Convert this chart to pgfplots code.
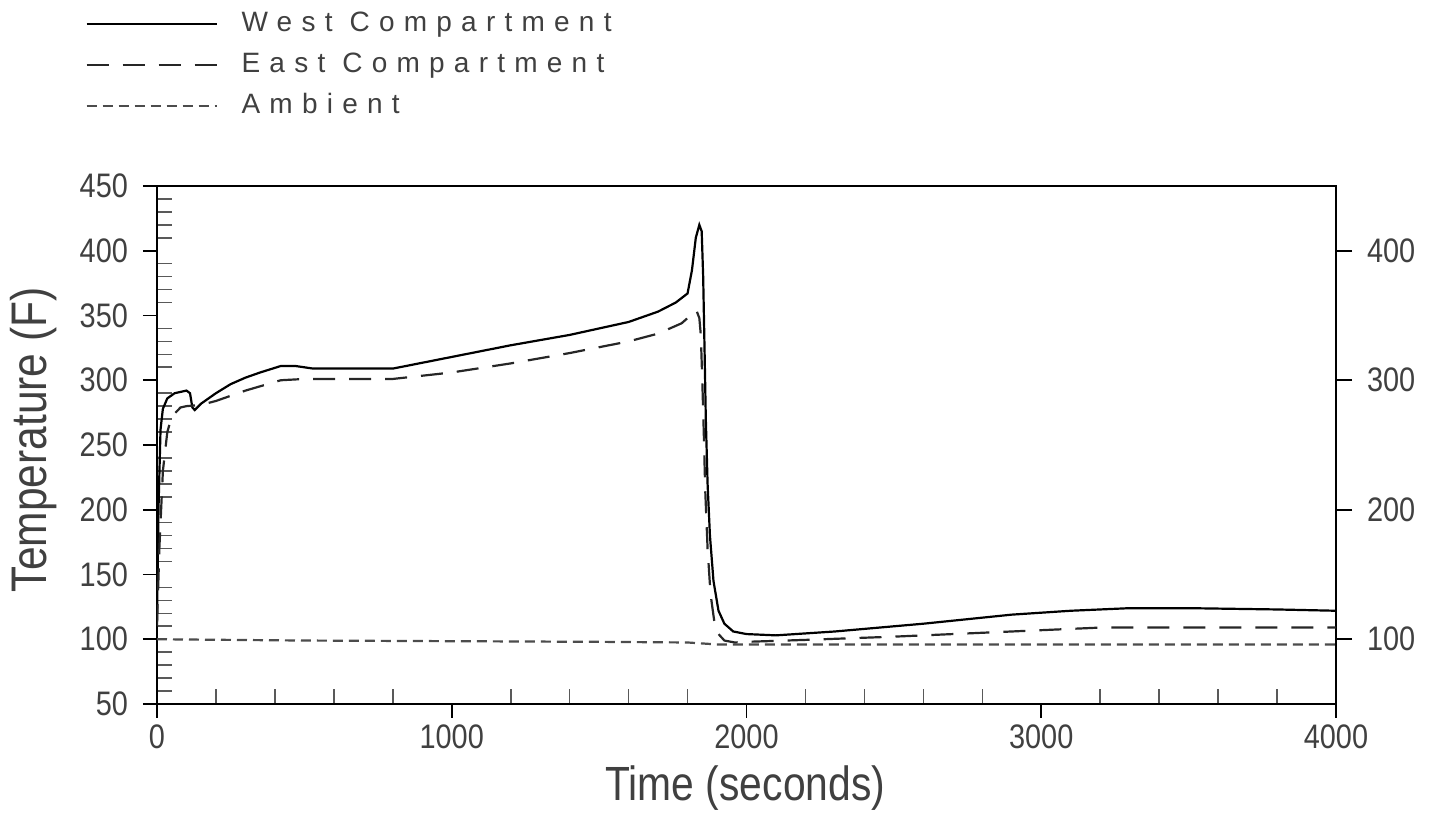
\documentclass[border=0pt]{standalone}
\usepackage{fontspec}
\setmainfont{Liberation Sans}[FakeStretch=0.85]
\newfontfamily\legfont{Liberation Sans}[LetterSpace=33]
\usepackage{pgfplots}
\pgfplotsset{compat=1.18}
\usepackage{pgfplotstable}

\pgfplotstableread{
t T
0 115
5 200
12 262
20 278
35 286
60 290
100 292
112 290
120 279
128 277
150 282
200 290
250 297
300 302
350 306
420 311
470 311
530 309
600 309
800 309
1000 318
1200 327
1400 335
1600 345
1700 353
1760 360
1800 367
1815 385
1828 410
1840 420
1848 415
1853 380
1858 320
1862 270
1868 220
1876 180
1888 145
1905 122
1925 112
1955 106
2000 104
2100 103
2300 106
2600 112
2900 119
3100 122
3300 124
3500 124
3800 123
4000 122
}\west

\pgfplotstableread{
t T
0 110
8 170
20 230
35 260
50 272
80 279
100 280
150 281
200 284
300 292
420 300
500 301
800 301
1000 306
1200 313
1400 321
1600 330
1700 336
1780 344
1810 350
1830 354
1840 348
1845 335
1850 300
1855 260
1860 215
1868 170
1878 135
1890 115
1905 104
1925 99
1960 97.5
2000 98
2200 99.5
2500 102
2800 105
3000 107
3200 109
3500 109
4000 109
}\east

\pgfplotstableread{
t T
0 100
500 99
1000 98.5
1500 98
1800 97.5
1900 96
2500 96
4000 96
}\ambient

\begin{document}
\begin{tikzpicture}
\useasboundingbox (-78.5pt,-57pt) rectangle (639.5pt,352pt);
\pgfplotsset{common/.style={scale only axis, width=589.5pt, height=259pt,
  xmin=0, xmax=4000, ymin=50, ymax=450, at={(0pt,0pt)}, anchor=south west,
  scaled ticks=false, /pgf/number format/1000 sep={},
  /pgf/number format/assume math mode=true,
  ticklabel style={font=\fontsize{17}{19}\selectfont, text=black!75},
  tick style={black, line width=0.9pt}}}
% minor ticks, inside
\begin{axis}[common, axis line style={draw=none}, tick align=inside,
  xtick={200,400,600,800,1200,1400,1600,1800,2200,2400,2600,2800,3200,3400,3600,3800},
  ytick={60,70,80,90,110,120,130,140,160,170,180,190,210,220,230,240,260,270,280,290,310,320,330,340,360,370,380,390,410,420,430,440},
  xticklabels={}, yticklabels={}, xtick pos=left, ytick pos=left,
  major tick length=7.5pt, tick style={black!65, line width=0.8pt}]
\end{axis}
% right ticks
\begin{axis}[common, axis line style={draw=none}, tick align=outside,
  xtick=\empty, ytick={100,200,300,400}, ytick pos=right, yticklabel pos=right,
  yticklabel style={xshift=4pt},
  major tick length=8pt]
\end{axis}
% main
\begin{axis}[common, tick align=outside,
  xtick={0,1000,2000,3000,4000}, ytick={50,100,...,450},
  xtick pos=left, ytick pos=left, major tick length=7pt,
  yticklabel style={xshift=-4pt},
  axis line style={line width=1.2pt},
  xlabel={Time (seconds)}, ylabel={Temperature (F)},
  every axis x label/.style={at={(axis description cs:0.499,-0.162)}, anchor=center, font=\fontsize{24}{26}\selectfont, text=black!75},
  every axis y label/.style={at={(axis description cs:-0.105,0.51)}, rotate=90, anchor=center, font=\fontsize{25}{27}\selectfont, text=black!75},
  legend image code/.code={\draw[#1] (0pt,0pt) -- (65pt,0pt); \path[draw=none] (0pt,0pt) -- (77.5pt,0pt);},
  legend cell align=left,
  legend style={draw=none, fill=none, at={(axis description cs:-0.061,1.338)}, anchor=north west,
    font=\legfont\fontsize{14}{16}\selectfont, text=black!75, row sep=7.5pt, inner sep=0pt,
    nodes={inner sep=0pt, text height=10pt, text depth=3pt}},
]
\addplot[black, line width=1.1pt] table[x=t, y=T] {\west};
\addlegendentry{West Compartment}
\addplot[black!85, line width=1.1pt, dash pattern=on 11pt off 7pt] table[x=t, y=T] {\east};
\addlegendentry{East Compartment}
\addplot[black!70, line width=1.1pt, dash pattern=on 5pt off 3pt] table[x=t, y=T] {\ambient};
\addlegendentry{Ambient}
\end{axis}
\end{tikzpicture}
\end{document}
